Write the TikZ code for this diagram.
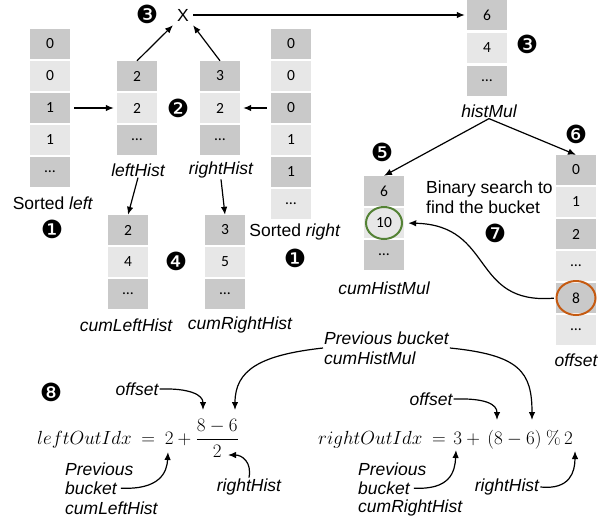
\documentclass[tikz,border=0pt]{standalone}
\usepackage{amsmath}
\usepackage{fontspec}
\setsansfont{Liberation Sans}
\newfontfamily\cellfont{Carlito}
\newfontfamily\dingfont{DejaVu Sans}
\usetikzlibrary{arrows.meta}
\definecolor{cellDark}{RGB}{201,201,201}
\definecolor{cellLight}{RGB}{231,231,231}
\definecolor{hitGreen}{RGB}{84,130,53}
\definecolor{hitOrange}{RGB}{197,90,17}
\tikzset{
  cell/.style={minimum width=40pt,minimum height=30pt,inner sep=0pt,
    font=\cellfont\fontsize{15.5}{15.5}\selectfont},
  dk/.style={cell,fill=cellDark},
  lt/.style={cell,fill=cellLight},
  lbl/.style={font=\sffamily\itshape\fontsize{17.5}{20}\selectfont,inner sep=1pt},
  plain/.style={font=\sffamily\fontsize{17.5}{20}\selectfont,inner sep=1pt},
  stepno/.style={font=\dingfont\fontsize{25}{25}\selectfont,inner sep=0pt},
  eq/.style={font=\fontsize{17.28}{17.28}\selectfont,inner sep=0pt,scale=1.1,transform shape},
  arr/.style={-{Latex[length=8pt,width=6.5pt]},line width=1.2pt},
}
\begin{document}
\begin{tikzpicture}[x=1pt,y=-1pt]
      \useasboundingbox (0,0) rectangle (613,523);
      % sorted left
      \draw (50,44)  node[dk] (sl0) {0};
      \draw (50,76)  node[lt] (sl1) {0};
      \draw (50,108) node[dk] (sl2) {1};
      \draw (50,140) node[lt] (sl3) {1};
      \draw (50,172) node[dk] (sl4) {\ldots};
      \draw (53,203) node[plain] (slname) {Sorted \textit{left}};
      \draw (52,229) node[stepno] {❶};
      % sorted right
      \draw (291,44)  node[dk] (sr0) {0};
      \draw (291,76)  node[lt] (sr1) {0};
      \draw (291,108) node[dk] (sr2) {0};
      \draw (291,140) node[lt] (sr3) {1};
      \draw (291,172) node[dk] (sr4) {1};
      \draw (291,204) node[lt] (sr5) {\ldots};
      \draw (295,232) node[plain] (srname) {Sorted \textit{right}};
      \draw (295,258) node[stepno] {❶};
      % histograms
      \draw (137,76)  node[dk] (lh0) {2};
      \draw (137,108) node[lt] (lh1) {2};
      \draw (137,140) node[dk] (lh2) {\ldots};
      \draw (138,170) node[lbl] (lhname) {leftHist};
      \draw (220,76)  node[dk] (rh0) {3};
      \draw (220,108) node[lt] (rh1) {2};
      \draw (220,140) node[dk] (rh2) {\ldots};
      \draw (221,170) node[lbl] (rhname) {rightHist};
      \draw (178,108) node[stepno] {❷};
      \draw[arr,shorten <=4pt,shorten >=3pt] (sl2) -- (lh1);
      \draw[arr,shorten <=4pt,shorten >=3pt] (sr2) -- (rh1);
      % product
      \draw (183,15) node[plain,inner sep=4pt] (xop) {X};
      \draw (147,14) node[stepno] {❸};
      \draw[arr] (lh0.north) -- (xop.south west);
      \draw[arr] (rh0.north) -- (xop.south east);
      \draw (487,15) node[dk] (hm0) {6};
      \draw (487,48) node[lt] (hm1) {4};
      \draw (487,81) node[dk] (hm2) {\ldots};
      \draw (489,111) node[lbl] (hmname) {histMul};
      \draw (527,44) node[stepno] {❸};
      \draw[arr,shorten >=2pt] (xop.east) -- (xop.east -| hm0.west);
      % cumulative histograms
      \draw (128,230) node[dk] (cl0) {2};
      \draw (128,262) node[lt] (cl1) {4};
      \draw (128,294) node[dk] (cl2) {\ldots};
      \draw (126,325) node[lbl] (clname) {cumLeftHist};
      \draw (225,230) node[dk] (cr0) {3};
      \draw (225,262) node[lt] (cr1) {5};
      \draw (225,294) node[dk] (cr2) {\ldots};
      \draw (240,325) node[lbl] (crname) {cumRightHist};
      \draw (176,261) node[stepno] {❹};
      \draw[arr] (lhname.south) -- (cl0.north);
      \draw[arr] (rhname.south) -- (cr0.north);
      % cumHistMul and offset
      \draw (384,191) node[dk] (cm0) {6};
      \draw (384,223) node[lt] (cm1) {10};
      \draw (384,255) node[dk] (cm2) {\ldots};
      \draw (384,288) node[lbl] (cmname) {cumHistMul};
      \draw (382,152) node[stepno] {❺};
      \draw (576,170) node[dk] (of0) {0};
      \draw (576,202) node[lt] (of1) {1};
      \draw (576,234) node[dk] (of2) {2};
      \draw (576,266) node[lt] (of3) {\ldots};
      \draw (576,298) node[dk] (of4) {8};
      \draw (576,330) node[lt] (of5) {\ldots};
      \draw (576,360) node[lbl] (ofname) {offset};
      \draw (576,134) node[stepno] {❻};
      \draw[arr] (hmname.south) -- (cm0.north);
      \draw[arr] (hmname.south) -- (of0.north);
      \draw[hitGreen,line width=2pt] (cm1) ellipse (18 and 16);
      \draw[hitOrange,line width=2pt] (of4) ellipse (19.5 and 17);
      \draw (425,197) node[plain,anchor=west,align=left] (search) {Binary search to\\find the bucket};
      \draw (495,233) node[stepno] {❼};
      \draw[arr,shorten <=2pt,shorten >=4pt] (of4.west) .. controls (470,305) and (495,225) .. (cm1.east);
      % output indices
      \draw (51,392) node[stepno] {❽};
      \draw (37,444) node[eq,anchor=base west] (lefteq) {$leftOutIdx\hspace{4pt}=\hspace{4pt}2+\dfrac{8-6}{2}$};
      \draw (318,444) node[eq,anchor=base west] (righteq) {$rightOutIdx\hspace{4pt}=\hspace{2pt}3+\hspace{3pt}(8-6)\hspace{4pt}\%\hspace{3pt}2$};
      \coordinate (lnum8) at (203,410);
      \coordinate (lnum6) at (235,410);
      \coordinate (ltwo) at (168,452);
      \coordinate (lden) at (228,455);
      \coordinate (rnum8) at (497,420);
      \coordinate (rnum6) at (532,420);
      \coordinate (rthree) at (456,450);
      \coordinate (rtwo) at (575,451);
      \draw (137,389) node[lbl] (loff) {offset};
      \draw (323,348) node[lbl,anchor=west,align=left] (prevmul) {Previous bucket\\cumHistMul};
      \draw (64,469) node[lbl,anchor=west] (lprev) {Previous};
      \draw (64,488) node[lbl,anchor=west] (lbucket) {bucket};
      \draw (64,508) node[lbl,anchor=west] (lcum) {cumLeftHist};
      \draw (249,487) node[lbl] (lrh) {rightHist};
      \draw (431,399) node[lbl] (roff) {offset};
      \draw (357,469) node[lbl,anchor=west] (rprev) {Previous};
      \draw (357,488) node[lbl,anchor=west] (rbucket) {bucket};
      \draw (357,508) node[lbl,anchor=west] (rcum) {cumRightHist};
      \draw (507,487) node[lbl] (rrh) {rightHist};
      \draw[arr] (loff.east) .. controls (190,388) and (203,395) .. (lnum8);
      \draw[arr] (prevmul.west) .. controls (260,355) and (235,370) .. (lnum6);
      \draw[arr] (prevmul.east) .. controls (520,355) and (532,372) .. (rnum6);
      \draw[arr,shorten <=3pt] (lbucket.east) .. controls (160,490) and (167,472) .. (ltwo);
      \draw[arr] (lrh.north) .. controls (252,462) and (242,455) .. (lden);
      \draw[arr] (roff.east) .. controls (485,398) and (497,404) .. (rnum8);
      \draw[arr,shorten <=3pt] (rbucket.east) .. controls (450,490) and (455,472) .. (rthree);
      \draw[arr] (rrh.east) .. controls (570,490) and (575,472) .. (rtwo);
\end{tikzpicture}
\end{document}
